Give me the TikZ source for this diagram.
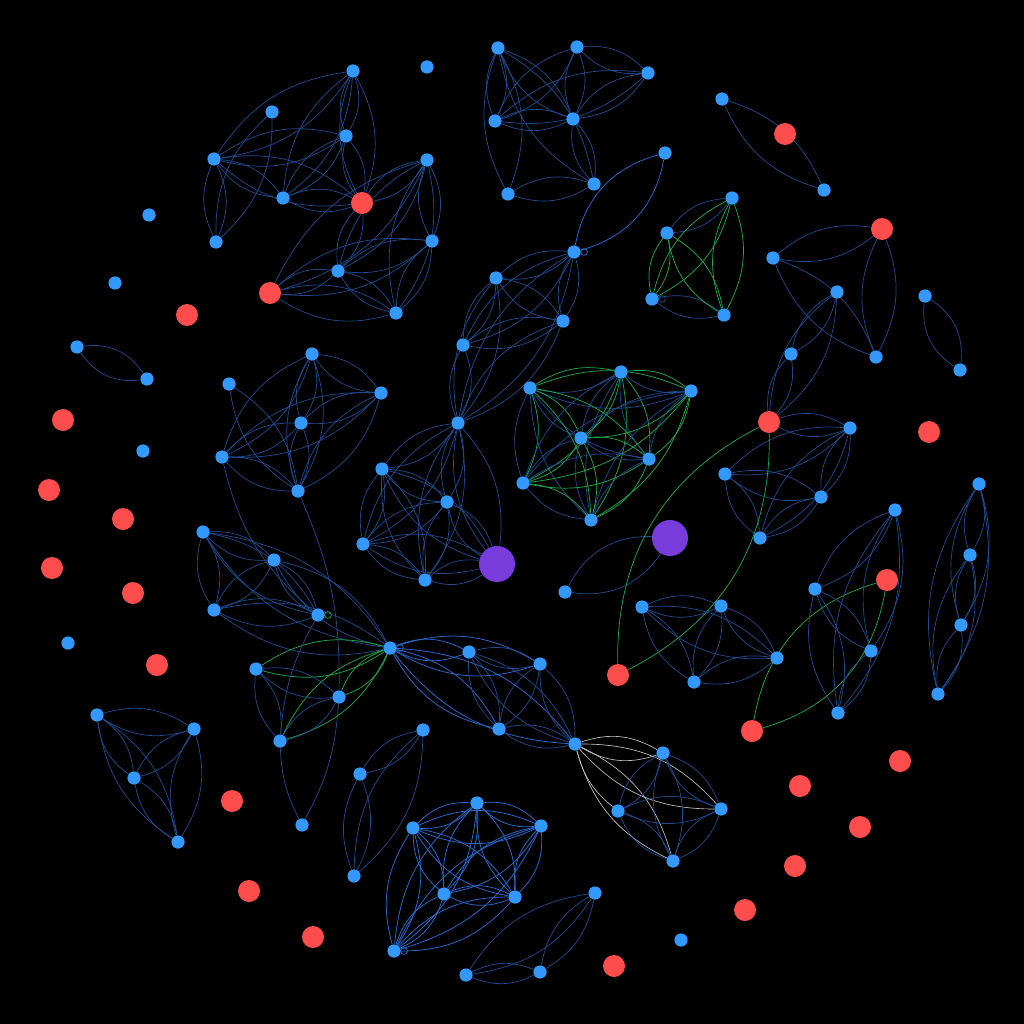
\documentclass[tikz,border=0pt]{standalone}
\usepackage{tikz}
\pgfdeclarelayer{back}
\pgfdeclarelayer{bg}
\pgfsetlayers{back,bg,main}
\definecolor{cNB}{RGB}{51,153,255}
\definecolor{cNR}{RGB}{255,76,76}
\definecolor{cNP}{RGB}{120,60,220}
\definecolor{cEB}{RGB}{32,76,145}
\definecolor{cEBB}{RGB}{42,104,205}
\definecolor{cEG}{RGB}{30,175,75}
\definecolor{cEW}{RGB}{200,200,200}
\tikzset{
  bn/.style={circle,fill=cNB,inner sep=0pt,minimum size=0.33cm},
  rn/.style={circle,fill=cNR,inner sep=0pt,minimum size=0.55cm},
  pn/.style={circle,fill=cNP,inner sep=0pt,minimum size=0.9cm},
  eb/.style={draw=cEB,line width=0.5pt},
  ebb/.style={draw=cEBB,line width=0.55pt},
  eg/.style={draw=cEG,line width=0.5pt},
  ew/.style={draw=cEW,line width=0.45pt},
}
\newcommand\ed[3][eb]{\draw[#1] (#2) to[bend left=24] (#3) (#2) to[bend right=24] (#3);}
\newcommand\edw[3][eb]{\draw[#1] (#2) to[bend left=32] (#3) (#2) to[bend right=32] (#3);}
\newcommand\edmix[2]{\draw[eg] (#1) to[bend left=22] (#2); \draw[eb] (#1) to[bend right=22] (#2);}
\newcommand\lp[2][eb]{\draw[#1] ([xshift=2.2pt]#2.east) circle[radius=2.4pt];}
\begin{document}
\begin{tikzpicture}[x=0.025cm,y=-0.025cm]
\begin{pgfonlayer}{back}
\fill[black] (0,0) rectangle (1024,1024);
\end{pgfonlayer}
\useasboundingbox (0,0) rectangle (1024,1024);
% cluster A
\node[bn] (a1) at (353,71) {};
\node[bn] (a2) at (272,112) {};
\node[bn] (a3) at (346,136) {};
\node[bn] (a4) at (214,159) {};
\node[bn] (a5) at (283,198) {};
\node[bn] (a6) at (216,242) {};
\node[rn] (ar) at (362,203) {};
% cluster B
\node[bn] (b1) at (427,160) {};
\node[bn] (b2) at (432,241) {};
\node[bn] (b3) at (338,271) {};
\node[bn] (b4) at (396,313) {};
\node[rn] (br) at (270,293) {};
% isolated
\node[bn] (iso1) at (427,67) {};
\node[bn] (iso2) at (149,215) {};
\node[bn] (iso3) at (115,283) {};
\node[bn] (iso4) at (143,451) {};
\node[bn] (iso5) at (68,643) {};
\node[bn] (iso6) at (681,940) {};
\node[rn] (rd1) at (187,315) {};
\node[rn] (rd2) at (63,420) {};
\node[rn] (rd3) at (49,490) {};
\node[rn] (rd4) at (123,519) {};
\node[rn] (rd5) at (52,568) {};
\node[rn] (rd6) at (133,593) {};
\node[rn] (rd7) at (157,665) {};
\node[rn] (rd8) at (232,801) {};
\node[rn] (rd9) at (249,891) {};
\node[rn] (rd10) at (313,937) {};
\node[rn] (rd11) at (800,786) {};
\node[rn] (rd12) at (900,761) {};
\node[rn] (rd13) at (860,827) {};
\node[rn] (rd14) at (795,866) {};
\node[rn] (rd15) at (745,910) {};
\node[rn] (rd16) at (614,966) {};
\node[rn] (rd17) at (929,432) {};
\node[rn] (ur) at (785,134) {};
% cluster T
\node[bn] (t1) at (498,48) {};
\node[bn] (t2) at (577,47) {};
\node[bn] (t3) at (648,73) {};
\node[bn] (t4) at (495,121) {};
\node[bn] (t5) at (573,119) {};
\node[bn] (t6) at (508,194) {};
\node[bn] (t7) at (594,184) {};
\node[bn] (u1) at (722,99) {};
\node[bn] (u2) at (824,190) {};
\node[bn] (v1) at (665,153) {};
\node[bn] (v2) at (574,252) {};
% green cluster G
\node[bn] (g1) at (732,198) {};
\node[bn] (g2) at (667,233) {};
\node[bn] (g3) at (652,299) {};
\node[bn] (g4) at (724,315) {};
% right cluster R
\node[rn] (r1) at (882,229) {};
\node[bn] (r2) at (773,258) {};
\node[bn] (r3) at (837,292) {};
\node[bn] (r4) at (876,357) {};
\node[bn] (r5) at (791,354) {};
\node[rn] (r6) at (769,422) {};
\node[bn] (w1) at (925,296) {};
\node[bn] (w2) at (960,370) {};
% cluster M
\node[bn] (m1) at (496,278) {};
\node[bn] (m2) at (563,321) {};
\node[bn] (m3) at (463,345) {};
\node[bn] (m4) at (458,423) {};
% cluster C
\node[bn] (c1) at (530,388) {};
\node[bn] (c2) at (621,372) {};
\node[bn] (c3) at (691,391) {};
\node[bn] (c4) at (581,438) {};
\node[bn] (c5) at (649,459) {};
\node[bn] (c6) at (523,483) {};
\node[bn] (c7) at (591,520) {};
% left pair
\node[bn] (l1) at (77,347) {};
\node[bn] (l2) at (147,379) {};
% cluster D
\node[bn] (d1) at (312,354) {};
\node[bn] (d2) at (229,384) {};
\node[bn] (d3) at (381,393) {};
\node[bn] (d4) at (301,423) {};
\node[bn] (d5) at (222,457) {};
\node[bn] (d6) at (298,491) {};
% cluster E
\node[bn] (e1) at (382,469) {};
\node[bn] (e2) at (447,502) {};
\node[bn] (e3) at (363,544) {};
\node[bn] (e4) at (425,580) {};
\node[pn] (p1) at (497,564) {};
\node[pn] (p2) at (670,538) {};
\node[bn] (s0) at (565,592) {};
% cluster F
\node[bn] (f1) at (850,428) {};
\node[bn] (f2) at (725,474) {};
\node[bn] (f3) at (821,497) {};
\node[bn] (f4) at (760,538) {};
% cluster H
\node[bn] (h1) at (895,510) {};
\node[bn] (h2) at (815,589) {};
\node[rn] (q3) at (887,580) {};
\node[bn] (h3) at (871,651) {};
\node[bn] (h4) at (838,713) {};
% cluster I
\node[bn] (i1) at (979,484) {};
\node[bn] (i2) at (970,555) {};
\node[bn] (i3) at (961,625) {};
\node[bn] (i4) at (938,694) {};
% cluster J
\node[bn] (j1) at (642,607) {};
\node[bn] (j2) at (721,606) {};
\node[bn] (j3) at (777,658) {};
\node[bn] (j4) at (694,682) {};
\node[rn] (q1) at (618,675) {};
\node[rn] (q2) at (752,731) {};
% cluster K
\node[bn] (k1) at (203,532) {};
\node[bn] (k2) at (274,560) {};
\node[bn] (k3) at (214,610) {};
\node[bn] (k4) at (318,615) {};
% hub cluster
\node[bn] (hub) at (390,648) {};
\node[bn] (x1) at (469,652) {};
\node[bn] (x2) at (540,664) {};
\node[bn] (x3) at (499,729) {};
\node[bn] (x4) at (575,744) {};
\node[bn] (y1) at (256,669) {};
\node[bn] (y2) at (339,697) {};
\node[bn] (y3) at (280,741) {};
\node[bn] (y4) at (302,825) {};
% white cluster Z
\node[bn] (z1) at (663,753) {};
\node[bn] (z2) at (618,811) {};
\node[bn] (z3) at (721,809) {};
\node[bn] (z4) at (673,861) {};
% cluster L
\node[bn] (l3) at (97,715) {};
\node[bn] (l4) at (194,729) {};
\node[bn] (l5) at (134,778) {};
\node[bn] (l6) at (178,842) {};
% cluster N
\node[bn] (n1) at (423,730) {};
\node[bn] (n2) at (360,774) {};
\node[bn] (n3) at (354,876) {};
% cluster O
\node[bn] (o1) at (477,803) {};
\node[bn] (o2) at (413,828) {};
\node[bn] (o3) at (541,826) {};
\node[bn] (o4) at (444,894) {};
\node[bn] (o5) at (515,897) {};
\node[bn] (o6) at (394,951) {};
% cluster S
\node[bn] (s1) at (595,893) {};
\node[bn] (s2) at (466,975) {};
\node[bn] (s3) at (540,972) {};

\begin{pgfonlayer}{bg}
% A
\ed{a1}{a4}\ed{a1}{a3}\ed{a1}{a5}\ed{a1}{ar}\ed{a3}{a4}\ed{a3}{a5}\ed{a3}{ar}
\ed{a4}{a5}\ed{a4}{ar}\ed{a5}{ar}\ed{a2}{a6}\ed{a4}{a6}
\ed{ar}{b1}\ed{ar}{b3}\ed{br}{b1}
% B
\ed{b1}{b2}\ed{b1}{b4}\ed{b1}{b3}\ed{b2}{b3}\ed{b2}{b4}\ed{b2}{br}\ed{b3}{b4}\ed{b3}{br}\ed{b4}{br}
% T
\ed{t1}{t4}\ed{t1}{t5}\ed{t1}{t6}\ed{t1}{t7}\ed{t2}{t4}\ed{t2}{t5}\ed{t2}{t3}
\ed{t3}{t4}\ed{t3}{t5}\ed{t4}{t5}\ed{t5}{t7}\ed{t6}{t7}
\ed{u1}{u2}
\edw[ebb]{v1}{v2}
% G
\ed[eb]{g1}{g2}\ed[eb]{g3}{g4}
\ed[eg]{g1}{g3}\ed[eg]{g1}{g4}\ed[eg]{g2}{g3}\ed[eg]{g2}{g4}
% R
\ed{r1}{r2}\ed{r1}{r4}\ed{r2}{r4}\ed{r3}{r5}\ed{r3}{r6}\ed{r5}{r6}
\edw{w1}{w2}
% M
\ed{v2}{m1}\ed{v2}{m2}\ed{v2}{m3}\ed{v2}{m4}\ed{m1}{m2}\ed{m1}{m3}\ed{m1}{m4}
\ed{m2}{m3}\ed{m2}{m4}\ed{m3}{m4}
% C
\edmix{c1}{c2}\edmix{c1}{c3}\edmix{c1}{c4}\edmix{c1}{c5}\edmix{c1}{c6}\edmix{c1}{c7}
\edmix{c2}{c3}\edmix{c2}{c4}\edmix{c2}{c5}\edmix{c2}{c6}\edmix{c2}{c7}
\edmix{c3}{c4}\edmix{c3}{c5}\edmix{c3}{c6}\edmix{c3}{c7}
\edmix{c4}{c5}\edmix{c4}{c6}\edmix{c4}{c7}
\edmix{c5}{c6}\edmix{c5}{c7}\edmix{c6}{c7}
% left pair
\edw{l1}{l2}
% D
\ed{d1}{d3}\ed{d1}{d4}\ed{d1}{d5}\ed{d1}{d6}\ed{d3}{d4}\ed{d3}{d5}\ed{d3}{d6}
\ed{d4}{d5}\ed{d4}{d6}\ed{d5}{d6}\ed{d2}{d6}
\draw[eb] (d5) to[bend right=18] (k4);
\draw[eb] (d6) to[bend left=12] (y2);
% E
\ed{m4}{e1}\ed{m4}{e2}\ed{m4}{e3}\ed{m4}{e4}\ed{m4}{p1}
\ed{e1}{e2}\ed{e1}{e3}\ed{e1}{e4}\ed{e1}{p1}\ed{e2}{e3}\ed{e2}{e4}\ed{e2}{p1}
\ed{e3}{e4}\ed{e3}{p1}\ed{e4}{p1}
\edw{p2}{s0}
% F
\ed{r6}{f1}\ed{f1}{f2}\ed{f1}{f3}\ed{f1}{f4}\ed{f2}{f3}\ed{f2}{f4}\ed{f3}{f4}
\edw[eg]{r6}{q1}
\edw[eg]{q3}{q2}
% H
\ed{h1}{h2}\ed{h1}{h3}\ed{h1}{h4}\ed{h2}{h3}\ed{h2}{h4}\ed{h3}{h4}
% I
\ed{i1}{i2}\ed{i1}{i3}\ed{i1}{i4}\ed{i2}{i3}\ed{i2}{i4}\ed{i3}{i4}
% J
\ed{j1}{j2}\ed{j1}{j3}\ed{j1}{j4}\ed{j2}{j3}\ed{j2}{j4}\ed{j3}{j4}
% K
\ed{k1}{k2}\ed{k1}{k3}\ed{k1}{k4}\ed{k2}{k3}\ed{k2}{k4}\ed{k3}{k4}
\ed{k1}{hub}\ed{k2}{hub}\ed{k3}{hub}
% hub
\ed[ebb]{hub}{x1}\ed[ebb]{hub}{x2}\ed[ebb]{hub}{x3}\ed[ebb]{hub}{x4}
\ed{x1}{x2}\ed{x1}{x3}\ed{x1}{x4}\ed{x2}{x3}\ed{x2}{x4}\ed{x3}{x4}
\ed[eg]{hub}{y1}\ed[eg]{hub}{y2}\ed[eg]{hub}{y3}
\ed{y1}{y2}\ed{y1}{y3}\ed{y2}{y3}
\draw[eb] (k4) to[bend right=12] (y3);
\draw[eb] (y2) to[bend left=12] (y4);
\draw[eb] (y3) to[bend right=12] (y4);
% Z
\ed[ew]{x4}{z1}\ed[ew]{x4}{z3}\ed[ew]{x4}{z4}\draw[ew] (x4) to[bend right=18] (z2);
\ed{z1}{z2}\ed{z1}{z3}\ed{z1}{z4}\ed{z2}{z3}\ed{z2}{z4}\ed{z3}{z4}
% L
\ed{l3}{l4}\ed{l3}{l5}\ed{l3}{l6}\ed{l4}{l5}\ed{l4}{l6}\ed{l5}{l6}
% N
\ed{n1}{n2}\ed{n1}{n3}\ed{n2}{n3}
% O
\ed[ebb]{o1}{o2}\ed[ebb]{o1}{o3}\ed[ebb]{o1}{o4}\ed[ebb]{o1}{o5}\ed[ebb]{o1}{o6}
\ed[ebb]{o2}{o3}\ed[ebb]{o2}{o4}\ed[ebb]{o2}{o5}\ed[ebb]{o2}{o6}
\ed[ebb]{o3}{o4}\ed[ebb]{o3}{o5}\ed[ebb]{o3}{o6}
\ed[ebb]{o4}{o5}\ed[ebb]{o4}{o6}\ed[ebb]{o5}{o6}
% S
\ed{s1}{s2}\ed{s1}{s3}\ed{s2}{s3}
% loops
\lp[ebb]{v2}\lp{g3}\lp[eg]{k4}\lp[ebb]{hub}\lp[ebb]{o6}
\end{pgfonlayer}
\end{tikzpicture}
\end{document}
